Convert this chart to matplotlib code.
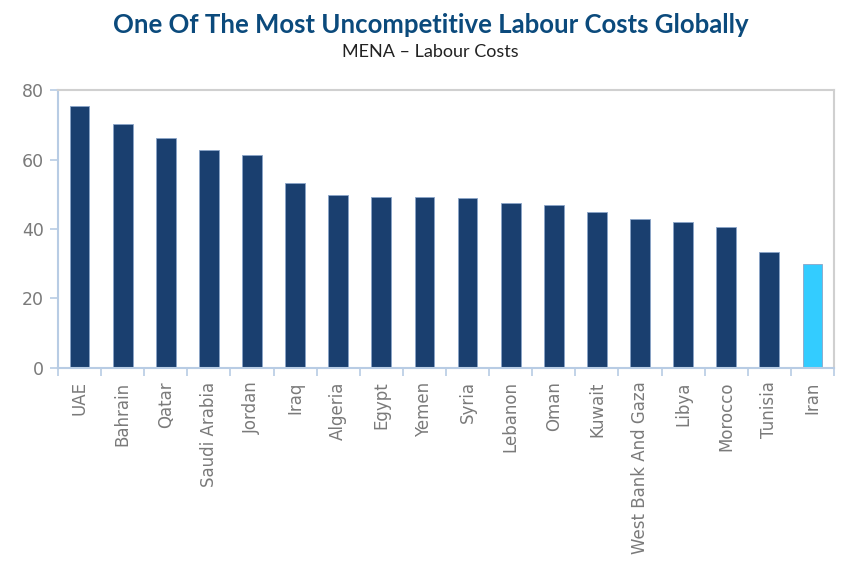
import numpy as np
import matplotlib.pyplot as plt

# MENA labour costs (index)
countries = ["UAE", "Bahrain", "Qatar", "Saudi Arabia", "Jordan", "Iraq", "Algeria",
             "Egypt", "Yemen", "Syria", "Lebanon", "Oman", "Kuwait", "West Bank And Gaza",
             "Libya", "Morocco", "Tunisia", "Iran"]
labour_costs = [75.6, 70.3, 66.3, 62.8, 61.4, 53.3, 49.8, 49.3, 49.3, 48.9, 47.4, 46.9,
                44.9, 43.0, 41.9, 40.6, 33.3, 29.8]
highlight = "Iran"

navy = "#1a3f6f"
cyan = "#33ccff"
axis_blue = "#b8cce4"
frame_grey = "#d0d0d0"
label_grey = "#7a7a7a"

fig = plt.figure(figsize=(8.41, 5.83), dpi=100)
ax = fig.add_axes([0.069, 0.3696, 0.9227, 0.4752])

x = np.arange(len(countries))
colors = [cyan if c == highlight else navy for c in countries]
ax.bar(x, labour_costs, width=0.46, color=colors, edgecolor="#8aa4c8", linewidth=0.6, zorder=2)

ax.set_xlim(-0.5, len(countries) - 0.5)
ax.set_ylim(0, 80)
ax.set_yticks([0, 20, 40, 60, 80])
ax.set_xticks(x)
ax.set_xticklabels(countries, rotation=90, fontsize=12, color=label_grey, family="DejaVu Sans")
ax.set_xticks(np.arange(len(countries) + 1) - 0.5, minor=True)
ax.tick_params(axis="x", which="major", length=0, pad=10)
ax.tick_params(axis="x", which="minor", length=6, color=axis_blue, width=1.2)
ax.tick_params(axis="y", length=6, color=axis_blue, width=1.2, labelsize=12.5,
               labelcolor=label_grey, pad=4)

for side in ["top", "right"]:
    ax.spines[side].set_color(frame_grey)
    ax.spines[side].set_linewidth(1.5)
for side in ["left", "bottom"]:
    ax.spines[side].set_color(axis_blue)
    ax.spines[side].set_linewidth(1.5)

fig.text(0.512, 0.957, "One Of The Most Uncompetitive Labour Costs Globally",
         ha="center", va="center", fontsize=18.5, fontweight="bold", color="#0b4a7c",
         family="Lato")
fig.text(0.512, 0.911, "MENA \u2013 Labour Costs", ha="center", va="center",
         fontsize=13, color="#222222", family="Lato")

fig.savefig("out.png", dpi=100)
